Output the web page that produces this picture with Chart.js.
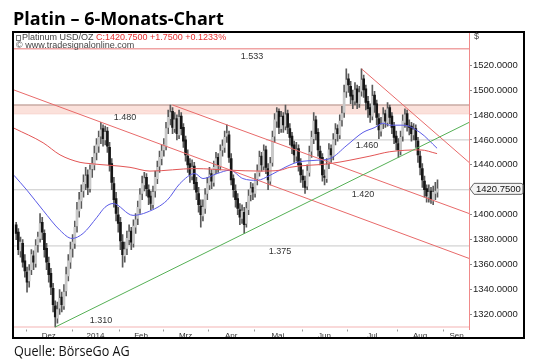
<!DOCTYPE html>
<html><head><meta charset="utf-8">
<script src="https://cdn.jsdelivr.net/npm/chart.js@4.4.1/dist/chart.umd.min.js"></script>
<style>
html,body{margin:0;padding:0;background:#fff;}
#wrap{position:relative;width:540px;height:360px;overflow:hidden;background:#fff;}
canvas{position:absolute;left:0;top:0;}
#title{position:absolute;left:13px;top:9px;font:700 18px/18px 'Open Sans',sans-serif;color:#000;white-space:nowrap;}
#src{position:absolute;left:14px;top:342px;font:400 15px/16px 'Open Sans',sans-serif;color:#111;white-space:nowrap;transform-origin:0 0;transform:scaleX(0.84);}
</style></head><body>
<div id="wrap"><canvas id="c" width="540" height="360"></canvas>
<div id="title">Platin – 6-Monats-Chart</div>
<div id="src">Quelle: BörseGo AG</div></div>
<script>
// ---- data (trading-day index, 0 = first trading day of Dec 2013) ----
const monthLabels=['Dez','2014','Feb','Mrz','Apr','Mai','Jun','Jul','Aug','Sep'];
const monthStart=[0,21,43,63,84,105,127,148,171,192];
const firstDay=-5;
const open=[1392,1386,1371,1377,1363,
1354,1347,1356,1367,1361,1376,1381,1394,1385,1373,
1361,1353,1341,1327,1317,1325,1334,1327,1339,1351,
1362,1373,1377,1391,1403,1411,1419,1425,1432,1421,
1437,1440,1450,1455,1463,1469,1460,1467,1454,1441,
1425,1413,1400,1394,1378,1367,1373,1380,1387,1377,
1390,1397,1405,1417,1424,1430,1420,1415,1408,1419,
1429,1439,1445,1452,1455,1470,1477,1483,1469,1477,
1464,1479,1470,1460,1447,1441,1431,1439,1426,1417,
1407,1399,1405,1417,1424,1433,1426,1437,1446,1439,
1452,1454,1463,1464,1445,1429,1419,1413,1404,1397,
1402,1393,1404,1416,1422,1417,1429,1434,1447,1439,
1452,1437,1427,1442,1463,1475,1483,1469,1479,1471,
1481,1469,1463,1456,1447,1453,1441,1431,1427,1423,
1434,1451,1461,1476,1466,1451,1446,1431,1429,1441,
1453,1447,1461,1469,1464,1476,1482,1499,1509,1503,
1496,1491,1501,1489,1499,1509,1501,1491,1486,1479,
1496,1489,1477,1467,1473,1481,1474,1486,1479,1471,
1463,1457,1451,1463,1474,1481,1471,1471,1464,1469,
1459,1447,1437,1427,1421,1414,1419,1411,1417,1418];
const high=[1394,1389,1382,1380,1368,
1358,1360,1372,1371,1380,1386,1401,1398,1388,1377,
1366,1357,1345,1331,1330,1340,1338,1344,1358,1368,
1378,1384,1395,1410,1418,1424,1432,1438,1436,1440,
1446,1455,1461,1467,1474,1472,1471,1470,1458,1445,
1430,1418,1406,1398,1384,1378,1387,1392,1390,1396,
1401,1411,1421,1431,1434,1433,1424,1419,1423,1435,
1443,1451,1456,1461,1474,1484,1488,1486,1482,1480,
1484,1482,1473,1463,1452,1445,1444,1442,1430,1422,
1412,1412,1421,1430,1438,1436,1443,1450,1449,1456,
1460,1467,1472,1467,1449,1432,1424,1417,1409,1408,
1406,1410,1420,1426,1425,1433,1440,1451,1450,1456,
1455,1441,1446,1467,1481,1486,1485,1483,1482,1488,
1484,1473,1466,1459,1458,1456,1445,1436,1431,1440,
1455,1467,1482,1479,1469,1455,1449,1436,1445,1457,
1456,1465,1473,1472,1480,1487,1504,1517,1513,1507,
1500,1506,1504,1503,1517,1512,1504,1495,1489,1504,
1499,1492,1481,1478,1486,1484,1490,1488,1482,1474,
1467,1461,1467,1480,1485,1484,1476,1474,1473,1472,
1462,1451,1441,1431,1424,1424,1422,1423,1426,1428];
const low=[1380,1368,1366,1358,1350,
1338,1342,1352,1356,1358,1370,1378,1380,1366,1356,
1346,1336,1322,1310,1313,1320,1322,1324,1335,1347,
1357,1366,1373,1386,1398,1405,1414,1420,1416,1418,
1430,1436,1444,1450,1457,1455,1456,1450,1435,1420,
1406,1395,1386,1372,1358,1362,1368,1376,1372,1374,
1385,1392,1401,1412,1419,1415,1408,1404,1405,1414,
1425,1434,1440,1447,1452,1465,1472,1465,1466,1460,
1461,1464,1454,1443,1434,1426,1428,1420,1412,1402,
1390,1395,1401,1412,1420,1421,1423,1433,1434,1436,
1447,1450,1458,1442,1424,1414,1406,1400,1392,1393,
1385,1390,1400,1411,1412,1414,1424,1431,1435,1436,
1433,1420,1424,1439,1458,1470,1465,1466,1466,1468,
1465,1456,1449,1442,1443,1435,1426,1422,1417,1420,
1431,1446,1457,1460,1447,1440,1427,1424,1426,1437,
1442,1444,1456,1459,1461,1471,1478,1494,1498,1489,
1485,1488,1485,1486,1495,1494,1484,1478,1474,1476,
1482,1472,1461,1463,1469,1470,1471,1473,1465,1457,
1452,1446,1448,1459,1470,1467,1464,1459,1460,1454,
1442,1432,1422,1414,1410,1410,1409,1408,1412,1414];
const close=[1385,1372,1378,1362,1355,
1346,1355,1368,1362,1375,1382,1393,1386,1372,1362,
1352,1342,1328,1318,1324,1333,1328,1338,1352,1363,
1372,1378,1390,1404,1412,1418,1426,1431,1422,1436,
1441,1449,1456,1462,1468,1461,1466,1455,1440,1426,
1412,1401,1393,1379,1368,1372,1381,1386,1378,1391,
1396,1406,1416,1425,1429,1421,1414,1409,1418,1430,
1438,1446,1451,1456,1469,1478,1482,1470,1476,1465,
1478,1469,1459,1448,1440,1432,1438,1425,1418,1408,
1400,1406,1416,1425,1432,1427,1438,1445,1440,1451,
1455,1462,1465,1446,1428,1420,1412,1405,1398,1403,
1392,1405,1415,1421,1418,1428,1435,1446,1440,1451,
1438,1428,1441,1462,1476,1482,1470,1478,1472,1480,
1470,1462,1455,1448,1452,1440,1432,1428,1422,1435,
1450,1462,1475,1465,1452,1445,1432,1430,1440,1452,
1448,1460,1468,1465,1475,1481,1498,1508,1504,1495,
1492,1500,1490,1498,1508,1500,1490,1485,1480,1495,
1488,1478,1468,1472,1480,1475,1485,1478,1470,1462,
1458,1452,1462,1475,1480,1472,1470,1465,1468,1460,
1448,1438,1428,1420,1415,1418,1412,1418,1419,1420.75];
// moving averages: [day, price]
const maBlue=[[-6,1431.6],[0,1419.6],[7.4,1403.5],[15.2,1387.5],[20.7,1381],[25.8,1385],[32.2,1398],[35.9,1406],[39.6,1409],[48.8,1399.5],[55.2,1402],[64.5,1411.6],[70.4,1425],[77.3,1433],[81,1429],[87.5,1433],[93.5,1435.7],[99.4,1429],[105.9,1427.6],[111.9,1431.6],[118.8,1438],[124.3,1442],[133.5,1443.7],[139.5,1445],[147.3,1455.7],[154.7,1466],[160.2,1470],[163.9,1473.4],[167.1,1471.8],[173.1,1471.8],[180.9,1466],[188.8,1453.3]];
const maRed=[[-6,1469.4],[7.4,1457.7],[15.2,1448],[24.4,1442],[29,1441],[47.4,1438],[56.6,1435],[77.3,1437],[93.5,1435.7],[107.3,1435],[116.5,1435.7],[121,1438],[139.5,1441],[157.9,1447],[167,1450.5],[181,1452],[188.8,1449]];
// trend lines: [day, price] endpoints
const trendGreen=[[13,1310],[203.5,1474]];
const trendRedA=[[67,1488],[203.5,1401]];
const trendRedB=[[-6,1500],[203.5,1365]];
const trendRedC=[[154,1517],[203.5,1442]];
// horizontal levels
const resistTop=1533;
const zone=[1481,1488];
const grayLevels=[1460,1420,1375];
const grayLevelFrom=[110,-6,-6];
const supportLow=1310;
const levelTexts=['1.533','1.480','1.460','1.420','1.375','1.310'];
const levelValues=[1533,1481,1460,1420,1375,1310];
const yTicks=[1320,1340,1360,1380,1400,1420,1440,1460,1480,1500,1520];

// ---- layout constants ----
const X_MIN=-6, X_MAX=203.5, Y_MIN=1308, Y_MAX=1546.5;
const labelAt=[103.6,45.1,156.5,154.7,116.5,34.1];
const labelDy=[8,4,6,5,6,-6];
const FONT='"Liberation Sans", Arial, sans-serif';

const days=close.map((c,k)=>firstDay+k);
const monthCenters=monthStart.map((s,k)=>k<monthStart.length-1?(s+monthStart[k+1])/2-0.5:(s+X_MAX)/2);
const hline=(v,from)=>[{x:from,y:v},{x:X_MAX,y:v}];
const pts=a=>a.map(p=>({x:p[0],y:p[1]}));

const datasets=[
 {type:'line',data:hline(zone[0],X_MIN),borderColor:'#f2b9b0',borderWidth:1,pointRadius:0,order:20},
 {type:'line',data:hline(zone[1],X_MIN),borderColor:'#c9aaa3',borderWidth:1.5,pointRadius:0,fill:'-1',backgroundColor:'#fbe1db',order:19},
 {type:'line',data:hline(resistTop,X_MIN),borderColor:'#f0a3a3',borderWidth:1.5,pointRadius:0,order:18},
 {type:'line',data:hline(supportLow,X_MIN),borderColor:'#f3b3b3',borderWidth:1,pointRadius:0,order:18},
 ...grayLevels.map((v,k)=>({type:'line',data:hline(v,grayLevelFrom[k]),borderColor:'#c8c8c8',borderWidth:1,pointRadius:0,order:17})),
 {type:'bar',data:days.map((d,k)=>({x:d,y:[low[k],high[k]]})),backgroundColor:'#5a5a5a',barThickness:1,grouped:false,order:11},
 {type:'bar',data:days.map((d,k)=>({x:d,y:[open[k],close[k]]})),
  backgroundColor:c=>{const k=c.dataIndex;return close[k]>=open[k]?'#c8c8c8':'#161616';},
  borderWidth:0,barThickness:2,grouped:false,order:10},
 {type:'line',data:pts(maRed),borderColor:'#e25555',borderWidth:1,pointRadius:0,cubicInterpolationMode:'monotone',order:5},
 {type:'line',data:pts(maBlue),borderColor:'#5a5ae6',borderWidth:1,pointRadius:0,cubicInterpolationMode:'monotone',order:5},
 {type:'line',data:pts(trendGreen),borderColor:'#55b055',borderWidth:1,pointRadius:0,order:4},
 {type:'line',data:pts(trendRedA),borderColor:'#e86a6a',borderWidth:1,pointRadius:0,order:4},
 {type:'line',data:pts(trendRedB),borderColor:'#e86a6a',borderWidth:1,pointRadius:0,order:4},
 {type:'line',data:pts(trendRedC),borderColor:'#e86a6a',borderWidth:1,pointRadius:0,order:4}
];

const deco={id:'deco',afterDraw(chart){
 const {ctx,chartArea:a,scales:{x,y}}=chart;
 ctx.save();
 // frame
 ctx.strokeStyle='#000';ctx.lineWidth=2;
 ctx.strokeRect(a.left-1,a.top,y.right-a.left+1,x.bottom-a.top);
 // month ticks
 ctx.strokeStyle='#999';ctx.lineWidth=1;
 monthStart.forEach(m=>{const px=Math.round(x.getPixelForValue(m-0.5))+0.5;ctx.beginPath();ctx.moveTo(px,a.bottom);ctx.lineTo(px,a.bottom+2);ctx.stroke();});
 // level labels
 ctx.font='9px '+FONT;ctx.fillStyle='#333';ctx.textAlign='center';ctx.textBaseline='middle';
 levelTexts.forEach((t,k)=>ctx.fillText(t,x.getPixelForValue(labelAt[k]),y.getPixelForValue(levelValues[k])+labelDy[k]));
 // header
 const last=close[close.length-1],prev=close[close.length-2],chg=last-prev,pct=chg/prev*100;
 ctx.textAlign='left';ctx.font='9px '+FONT;
 ctx.strokeStyle='#777';ctx.strokeRect(a.left+2.5,a.top+3.5,4,5);
 ctx.fillStyle='#444';ctx.fillText('Platinum USD/OZ ',a.left+8,a.top+5.5);
 const w=ctx.measureText('Platinum USD/OZ ').width;
 ctx.fillStyle='#e83030';
 ctx.fillText('C:'+last.toFixed(4)+' +'+chg.toFixed(4)+' +'+pct.toFixed(4)+'%',a.left+8+w,a.top+5.5);
 ctx.fillStyle='#444';ctx.fillText('\u00a9 www.tradesignalonline.com',a.left+2,a.top+13.5);
 ctx.fillText('$',a.right+5,a.top+5);
 // price tag
 const py=y.getPixelForValue(last),bx=a.right+1,bw=53,bh=11;
 ctx.beginPath();ctx.moveTo(bx,py);ctx.lineTo(bx+4,py-bh/2);ctx.lineTo(bx+bw-2,py-bh/2);
 ctx.quadraticCurveTo(bx+bw,py-bh/2,bx+bw,py-bh/2+2);ctx.lineTo(bx+bw,py+bh/2-2);
 ctx.quadraticCurveTo(bx+bw,py+bh/2,bx+bw-2,py+bh/2);ctx.lineTo(bx+4,py+bh/2);ctx.closePath();
 ctx.fillStyle='#f4f4f4';ctx.fill();ctx.strokeStyle='#666';ctx.lineWidth=1;ctx.stroke();
 ctx.fillStyle='#111';ctx.font='9.5px '+FONT;ctx.fillText(last.toFixed(4),bx+6,py+0.5);
 ctx.restore();
}};

new Chart(document.getElementById('c'),{
 type:'bar',
 data:{datasets},
 options:{
  responsive:false,animation:false,devicePixelRatio:1,
  layout:{padding:{left:14,right:16,top:32,bottom:22}},
  plugins:{legend:{display:false},tooltip:{enabled:false}},
  scales:{
   x:{type:'linear',min:X_MIN,max:X_MAX,offset:false,
      grid:{display:false,drawTicks:false},border:{display:false},
      afterBuildTicks:s=>{s.ticks=monthCenters.map(v=>({value:v}));},
      afterFit:s=>{s.height=8.5;},
      ticks:{autoSkip:false,maxRotation:0,padding:1,color:'#333',font:{size:8,family:FONT},callback:(v,i)=>monthLabels[i]}},
   y:{position:'right',min:Y_MIN,max:Y_MAX,
      grid:{display:true,drawOnChartArea:false,drawTicks:true,tickLength:3,color:'#888'},
      border:{display:true,color:'#f08a8a',width:1},
      afterBuildTicks:s=>{s.ticks=yTicks.map(v=>({value:v}));},
      afterFit:s=>{s.width=55;},
      ticks:{padding:1,color:'#222',font:{size:9.5,family:FONT},callback:v=>Number(v).toFixed(4)}}
  }
 },
 plugins:[deco]
});
</script>
</body></html>
